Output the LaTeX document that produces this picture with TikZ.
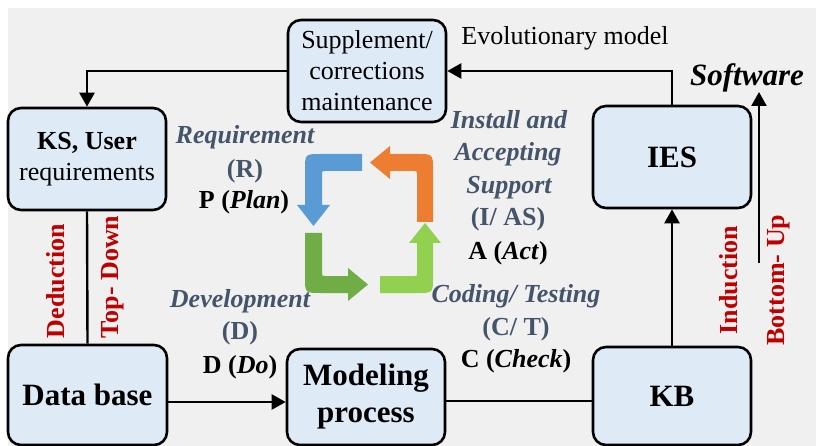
\documentclass[tikz,border=0pt]{standalone}
\usepackage{fontspec}
\setmainfont{Liberation Serif}
\usetikzlibrary{arrows.meta}
\definecolor{bg}{HTML}{F0F0F0}
\definecolor{boxfill}{HTML}{DEEBF7}
\definecolor{lab}{HTML}{44546A}
\definecolor{dred}{HTML}{C00000}
\definecolor{cblue}{HTML}{5B9BD5}
\definecolor{corange}{HTML}{ED7D31}
\definecolor{cdgreen}{HTML}{70AD47}
\definecolor{clgreen}{HTML}{92D050}
\begin{document}
\begin{tikzpicture}[x=1pt,y=-1pt,
  box/.style={draw=black, line width=2.6pt, rounded corners=13pt, fill=boxfill, align=center, inner sep=0pt},
  arr/.style={line width=2.4pt, -{Triangle[length=14pt,width=15pt]}},
  plain/.style={line width=2.4pt},
  reg/.style={font=\fontsize{26}{31}\selectfont},
  big/.style={font=\fontsize{31}{37}\selectfont\bfseries},
  lbl/.style={font=\fontsize{26}{31}\selectfont\bfseries, anchor=base, inner sep=0pt},
  side/.style={font=\fontsize{26}{31}\selectfont\bfseries, text=dred, rotate=90, inner sep=0pt}
]
\useasboundingbox (0,0) rectangle (816,446);
\fill[white] (0,0) rectangle (816,446);
\fill[bg] (8,8) rectangle (816,446);

% boxes
\node[box, minimum width=158pt, minimum height=102pt, reg] (sup) at (367,71) {Supplement/\\corrections\\maintenance};
\node[box, minimum width=158pt, minimum height=102pt, reg] (ks) at (87,159) {\textbf{KS, User}\\requirements};
\node[box, minimum width=158pt, minimum height=102pt, big] (ies) at (672,157) {IES};
\node[box, minimum width=159pt, minimum height=100pt, big] (db) at (87.5,395) {Data base};
\node[box, minimum width=158pt, minimum height=96pt, big] (mp) at (366,397) {Modeling\\process};
\node[box, minimum width=158pt, minimum height=98pt, big] (kb) at (672,396) {KB};

% cycle arrows
\fill[cblue] (362,154) -- (321,154) .. controls (305,154) .. (305,170) -- (305,205) -- (297,205) -- (313.5,226) -- (330,205) -- (322,205) -- (322,174) .. controls (322,171) .. (325,171) -- (362,171) -- cycle;
\fill[corange] (417,222) -- (417,174) .. controls (417,171) .. (414,171) -- (390,171) -- (390,179) -- (370,162.5) -- (390,146) -- (390,154) -- (417,154) .. controls (433,154) .. (433,170) -- (433,222) -- cycle;
\fill[cdgreen] (305,233) -- (305,277) .. controls (305,293) .. (321,293) -- (348,293) -- (348,301) -- (368,284.5) -- (348,268) -- (348,276) -- (325,276) .. controls (322,276) .. (322,273) -- (322,233) -- cycle;
\fill[clgreen] (380,293) -- (417,293) .. controls (433,293) .. (433,277) -- (433,243) -- (441,243) -- (425,223) -- (409,243) -- (417,243) -- (417,273) .. controls (417,276) .. (414,276) -- (380,276) -- cycle;

% phase labels
\node[lbl, text=lab] (req1) at (245,144) {\itshape Requirement};
\node[lbl, text=lab] (req2) at (245,178) {(R)};
\node[lbl] (req3) at (244,209) {P (\textit{Plan})};

\node[lbl, text=lab] (ins1) at (509,129) {\itshape Install and};
\node[lbl, text=lab] (ins2) at (508,161) {\itshape Accepting};
\node[lbl, text=lab] (ins3) at (509,194) {\itshape Support};
\node[lbl, text=lab] (ins4) at (508,226) {(I/ AS)};
\node[lbl] (ins5) at (508,259) {A (\textit{Act})};

\node[lbl, text=lab] (dev1) at (240,307) {\itshape Development};
\node[lbl, text=lab] (dev2) at (240,339) {(D)};
\node[lbl] (dev3) at (240,373) {D (\textit{Do})};

\node[lbl, text=lab] (cod1) at (516,302) {\itshape Coding/ Testing};
\node[lbl, text=lab] (cod2) at (516,335) {(C/ T)};
\node[lbl] (cod3) at (516,367) {C (\textit{Check})};

% other texts
\node[font=\fontsize{26}{31}\selectfont, anchor=base, inner sep=0pt] (evo) at (565,45) {Evolutionary model};
\node[font=\fontsize{31}{37}\selectfont\bfseries\itshape, anchor=base, inner sep=0pt] (sw) at (747,86) {Software};

\node[side] (ded) at (56,281) {Deduction};
\node[side] (tdn) at (113,277) {Top- Down};
\node[side] (ind) at (729,280) {Induction};
\node[side] (bup) at (779,280) {Bottom- Up};

% connectors
\coordinate (y402) at (0,402);
\coordinate (y401) at (0,401);
\coordinate (swb) at (759,263);
\coordinate (swt) at (759,92);
\draw[arr] (sup.west) -| (ks.north);
\draw[arr] (ies.north) |- (sup.east);
\draw[plain] (ks.south) -- (db.north);
\draw[arr] (db.east |- y402) -- (mp.west |- y402);
\draw[plain] (mp.east |- y401) -- (kb.west |- y401);
\draw[arr] (kb.north) -- (ies.south);
\draw[arr] (swb) -- (swt);
\end{tikzpicture}
\end{document}
